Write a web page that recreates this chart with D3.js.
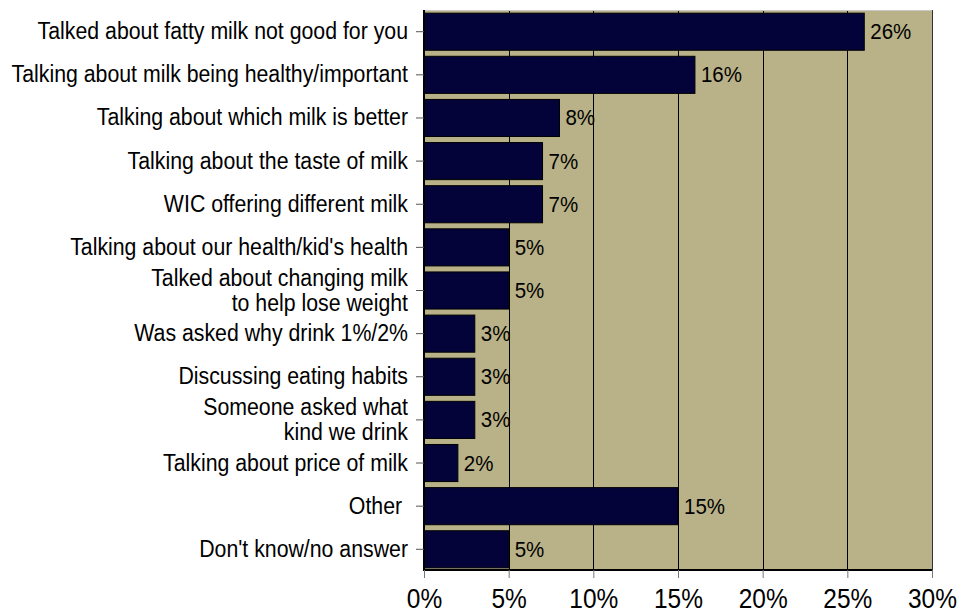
<!DOCTYPE html>
<html>
<head>
<meta charset="utf-8">
<script src="https://cdn.jsdelivr.net/npm/d3@7"></script>
<style>
  html, body { margin: 0; padding: 0; background: #ffffff; }
  svg { display: block; }
  text { font-family: "Liberation Sans", Arial, sans-serif; fill: #000; }
</style>
</head>
<body>
<svg id="chart" width="961" height="614"></svg>
<script>
// Reasons people talked about milk (share of respondents, %)
const categories = [
  ["Talked about fatty milk not good for you"],
  ["Talking about milk being healthy/important"],
  ["Talking about which milk is better"],
  ["Talking about the taste of milk"],
  ["WIC offering different milk"],
  ["Talking about our health/kid's health"],
  ["Talked about changing milk", "to help lose weight"],
  ["Was asked why drink 1%/2%"],
  ["Discussing eating habits"],
  ["Someone asked what", "kind we drink"],
  ["Talking about price of milk"],
  ["Other "],
  ["Don't know/no answer"]
];
const values = [26, 16, 8, 7, 7, 5, 5, 3, 3, 3, 2, 15, 5];
const xTicks = [0, 5, 10, 15, 20, 25, 30];

const svg = d3.select("#chart");
const plot = { left: 424, top: 11, right: 932, bottom: 570 };
const labelStretch = 1.08;   // slightly tall glyphs for labels
const tickStretch = 1.15;    // taller glyphs on the percentage axis

const x = d3.scaleLinear().domain([0, 30]).range([plot.left, plot.right]);
const y = d3.scaleBand()
  .domain(d3.range(categories.length))
  .range([plot.top, plot.bottom])
  .paddingInner(0.14)
  .paddingOuter(0.05);

// plot background
svg.append("rect")
  .attr("x", plot.left).attr("y", plot.top)
  .attr("width", plot.right - plot.left).attr("height", plot.bottom - plot.top)
  .attr("fill", "#b9b187");

// vertical gridlines
svg.append("g").selectAll("line")
  .data(xTicks.filter(t => t > 0 && t < 30))
  .join("line")
  .attr("x1", d => Math.round(x(d)) + 0.5).attr("x2", d => Math.round(x(d)) + 0.5)
  .attr("y1", plot.top).attr("y2", plot.bottom)
  .attr("stroke", "#000").attr("stroke-width", 1);

// plot frame: light top, dark right
svg.append("line")
  .attr("x1", plot.left).attr("x2", plot.right)
  .attr("y1", plot.top - 0.5).attr("y2", plot.top - 0.5)
  .attr("stroke", "#c8c8c8");
svg.append("line")
  .attr("x1", plot.right + 0.5).attr("x2", plot.right + 0.5)
  .attr("y1", plot.top - 1).attr("y2", plot.bottom)
  .attr("stroke", "#333");

// bars
svg.append("g").selectAll("rect")
  .data(values)
  .join("rect")
  .attr("x", x(0))
  .attr("y", (d, i) => y(i))
  .attr("width", d => x(d) - x(0))
  .attr("height", y.bandwidth())
  .attr("fill", "#03033a")
  .attr("stroke", "#000")
  .attr("stroke-width", 1);

// value labels
svg.append("g").selectAll("text")
  .data(values)
  .join("text")
  .attr("transform", (d, i) =>
    `translate(${x(d) + 6},${y(i) + y.bandwidth() / 2 + 7.5}) scale(1,${labelStretch})`)
  .attr("font-size", 20.5)
  .text(d => d + "%");

// y axis (ticks outward, no text from axis)
const yAxis = svg.append("g")
  .attr("transform", `translate(${plot.left},0)`)
  .call(d3.axisLeft(y).tickSize(8).tickFormat(""));
yAxis.select(".domain").attr("stroke", "#000").attr("stroke-width", 2)
  .attr("d", `M0,${plot.top - 1}V${plot.bottom}`);
yAxis.selectAll(".tick line").attr("stroke", "#555");

// category labels, wrapped where needed
const lineGap = 25;
const catG = svg.append("g");
categories.forEach((lines, i) => {
  const cy = y(i) + y.bandwidth() / 2 + 7.5;
  const start = cy - (lines.length - 1) * lineGap / 2;
  lines.forEach((ln, k) => {
    catG.append("text")
      .attr("transform", `translate(408,${start + k * lineGap}) scale(1,${labelStretch})`)
      .attr("text-anchor", "end")
      .attr("font-size", 21.3)
      .style("white-space", "pre")
      .text(ln);
  });
});

// x axis
const xAxis = svg.append("g")
  .attr("transform", `translate(0,${plot.bottom})`)
  .call(d3.axisBottom(x).tickValues(xTicks).tickSize(8).tickFormat(d => d + "%"));
xAxis.select(".domain").attr("stroke", "#000").attr("stroke-width", 2)
  .attr("d", `M${plot.left - 1},0H${plot.right}`);
xAxis.selectAll(".tick line").attr("stroke", "#777");
xAxis.selectAll(".tick text")
  .attr("y", null).attr("dy", null)
  .attr("transform", `translate(0,38) scale(1,${tickStretch})`)
  .attr("font-size", 24.5)
  .attr("font-family", "'Liberation Sans', Arial, sans-serif")
  .attr("fill", "#000");
</script>
</body>
</html>
